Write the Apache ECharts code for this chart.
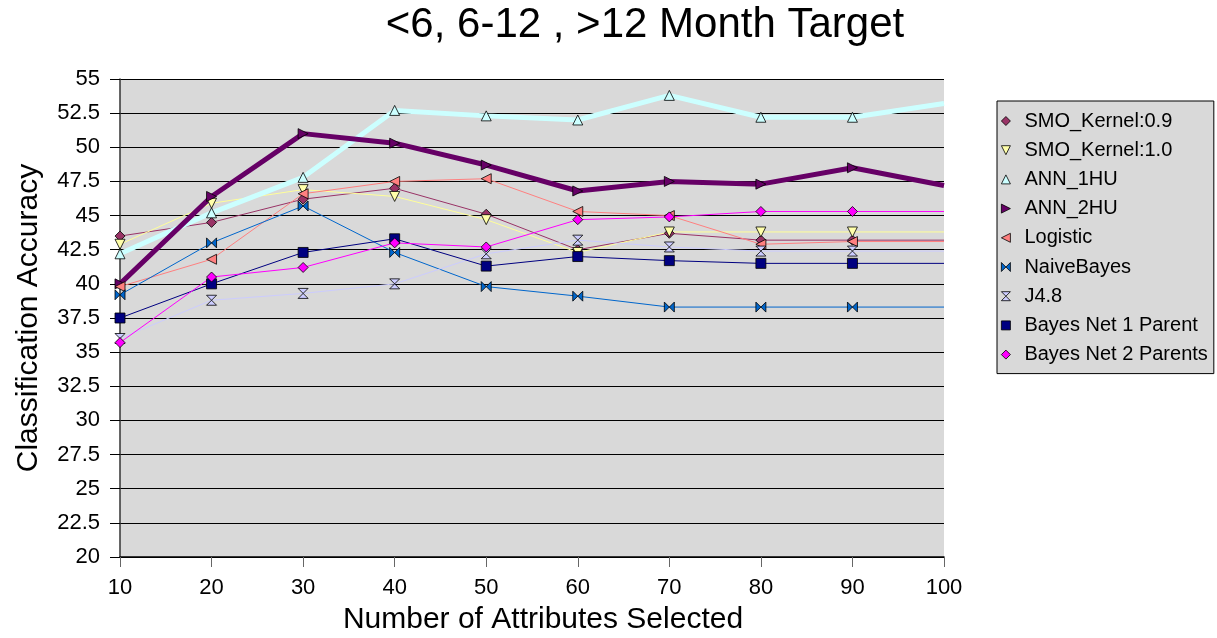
<!DOCTYPE html>
<html>
<head>
<meta charset="UTF-8">
<title>Month Target</title>
<script src="https://cdn.jsdelivr.net/npm/echarts@6/dist/echarts.min.js"></script>
<style>
  html, body { margin: 0; padding: 0; background: #fff; }
  #chart { width: 1217px; height: 638px; }
</style>
</head>
<body>
<div id="chart"></div>
<script>
// x positions (number of attributes)
var attrs = [10, 20, 30, 40, 50, 60, 70, 80, 90, 100];

// accuracy values
var smo09    = [43.5, 44.5, 46.2, 47.0, 45.1, 42.5, 43.7, 43.2, 43.2, 43.2];
var smo10    = [42.9, 45.9, 46.9, 46.4, 44.7, 42.3, 43.8, 43.8, 43.8, 43.8];
var ann1     = [42.2, 45.2, 47.8, 52.7, 52.3, 52.0, 53.8, 52.2, 52.2, 53.2];
var ann2     = [40.0, 46.4, 51.0, 50.3, 48.7, 46.8, 47.5, 47.3, 48.5, 47.2];
var logistic = [39.8, 41.8, 46.6, 47.5, 47.7, 45.3, 45.0, 42.9, 43.1, 43.1];
var naive    = [39.2, 43.0, 45.7, 42.3, 39.8, 39.1, 38.3, 38.3, 38.3, 38.3];
var j48      = [36.0, 38.8, 39.3, 40.0, 42.2, 43.2, 42.7, 42.4, 42.4, 42.4];
var bn1      = [37.5, 40.0, 42.3, 43.3, 41.3, 42.0, 41.7, 41.5, 41.5, 41.5];
var bn2      = [35.7, 40.5, 41.2, 43.0, 42.7, 44.7, 44.9, 45.3, 45.3, 45.3];

var names = ['SMO_Kernel:0.9', 'SMO_Kernel:1.0', 'ANN_1HU', 'ANN_2HU', 'Logistic',
             'NaiveBayes', 'J4.8', 'Bayes Net 1 Parent', 'Bayes Net 2 Parents'];

// marker shapes
var DOWN = 'path://M0,0L10,0L5,10Z';
var RIGHT = 'path://M0,0L10,5L0,10Z';
var LEFT = 'path://M10,0L0,5L10,10Z';
var BOWTIE = 'path://M0,0L5,5L0,10ZM10,0L5,5L10,10Z';
var HOURGLASS = 'path://M0,0L10,0L5,5ZM0,10L10,10L5,5Z';

var styles = [
  { data: smo09, color: '#993366', line: '#993366', symbol: 'diamond', size: 10, width: 1 },
  { data: smo10, color: '#FFFFAA', line: '#FFFF99', symbol: DOWN, size: 10, width: 1 },
  { data: ann1, color: '#CCFFFF', line: '#CCFFFF', symbol: 'triangle', size: 10, width: 5 },
  { data: ann2, color: '#660066', line: '#660066', symbol: RIGHT, size: 10, width: 5 },
  { data: logistic, color: '#FF8080', line: '#FF8080', symbol: LEFT, size: 10, width: 1 },
  { data: naive, color: '#0066CC', line: '#0066CC', symbol: BOWTIE, size: 10, width: 1 },
  { data: j48, color: '#CCCCFF', line: '#CCCCFF', symbol: HOURGLASS, size: 10, width: 1 },
  { data: bn1, color: '#000080', line: '#000080', symbol: 'rect', size: 10, width: 1 },
  { data: bn2, color: '#FF00FF', line: '#FF00FF', symbol: 'diamond', size: 10, width: 1 }
];

var series = styles.map(function (s, k) {
  return {
    name: names[k],
    type: 'line',
    symbol: s.symbol,
    symbolSize: s.size,
    color: s.color,
    itemStyle: { color: s.color, borderColor: '#000', borderWidth: 0.8 },
    lineStyle: { color: s.line, width: s.width },
    data: attrs.map(function (x, i) {
      // last point sits on the right edge with no marker
      if (i === attrs.length - 1) return { value: [x, s.data[i]], symbol: 'none' };
      return [x, s.data[i]];
    })
  };
});

var legendData = styles.map(function (s, k) {
  return { name: names[k], icon: s.symbol };
});

var chart = echarts.init(document.getElementById('chart'));
chart.setOption({
  animation: false,
  backgroundColor: '#fff',
  title: {
    text: '<6, 6-12 , >12 Month Target',
    left: 645,
    top: 4,
    textAlign: 'center',
    padding: 0,
    textStyle: { fontFamily: 'Liberation Sans, Arial', fontSize: 42, fontWeight: 'normal', color: '#000' }
  },
  legend: {
    orient: 'vertical',
    left: 997,
    top: 101,
    padding: [10, 6, 9, 4],
    backgroundColor: '#D9D9D9',
    borderColor: '#000',
    borderWidth: 1,
    borderRadius: 0,
    itemWidth: 9,
    itemHeight: 9,
    itemGap: 9.2,
    itemStyle: { borderColor: '#000', borderWidth: 0.8 },
    textStyle: { fontFamily: 'Liberation Sans, Arial', fontSize: 20, lineHeight: 20, color: '#000', padding: [0, 0, 0, 9] },
    data: legendData
  },
  grid: {
    left: 120,
    top: 79,
    width: 824,
    height: 478,
    outerBoundsMode: 'none',
    containLabel: false,
    show: true,
    backgroundColor: '#D9D9D9',
    borderWidth: 0
  },
  xAxis: {
    type: 'value',
    min: 10,
    max: 100,
    interval: 10,
    name: 'Number of Attributes Selected',
    nameLocation: 'middle',
    nameGap: 48,
    nameTextStyle: { fontFamily: 'Liberation Sans, Arial', fontSize: 30, color: '#000', padding: [0, 0, 0, 22], verticalAlign: 'top' },
    axisLine: { show: true, onZero: false, lineStyle: { color: '#000', width: 1.5 } },
    axisTick: { show: true, inside: false, length: 10, lineStyle: { color: '#666' } },
    axisLabel: { margin: 20, fontFamily: 'Liberation Sans, Arial', fontSize: 22, color: '#000' },
    splitLine: { show: false }
  },
  yAxis: {
    type: 'value',
    min: 20,
    max: 55,
    interval: 2.5,
    name: 'Classification Accuracy',
    nameLocation: 'middle',
    nameGap: 76,
    nameTextStyle: { fontFamily: 'Liberation Sans, Arial', fontSize: 30, color: '#000' },
    axisLine: { show: true, onZero: false, lineStyle: { color: '#333', width: 1.5 } },
    axisTick: { show: true, inside: false, length: 10, lineStyle: { color: '#000' } },
    axisLabel: { margin: 20, fontFamily: 'Liberation Sans, Arial', fontSize: 22, color: '#000' },
    splitLine: { show: true, lineStyle: { color: '#000', width: 1 } }
  },
  series: series
});
</script>
</body>
</html>
